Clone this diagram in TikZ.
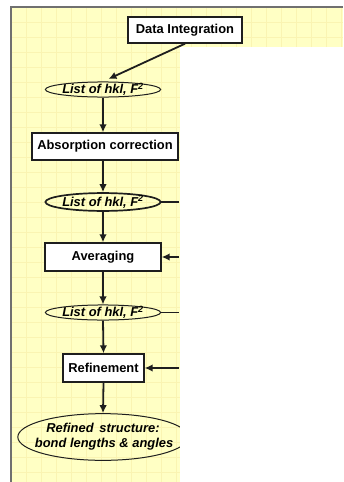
\documentclass[tikz,border=0pt]{standalone}
\usepackage{fontspec}
\setmainfont{Liberation Sans}
\usetikzlibrary{arrows.meta,shapes.geometric}
\definecolor{slideyellow}{HTML}{FFFFC4}
\definecolor{gridyellow}{HTML}{FAF4B2}
\definecolor{frameline}{HTML}{707070}
\definecolor{inkblack}{HTML}{1E1E1E}
\tikzset{
  procbox/.style={draw=inkblack,fill=white,line width=1.4pt,inner sep=0pt,
    font=\fontsize{12.9}{15}\selectfont\bfseries},
  datalist/.style={ellipse,draw=inkblack,line width=1pt,inner xsep=0pt,inner ysep=-1pt,
    font=\fontsize{12.9}{15}\selectfont\bfseries\itshape},
  flow/.style={draw=inkblack,line width=1.8pt,-{Latex[length=8pt,width=7.5pt]}},
  feed/.style={draw=inkblack,line width=1.4pt}
}
\begin{document}
\begin{tikzpicture}[x=1pt,y=-1pt]
\useasboundingbox (0,0) rectangle (343,482);
% slide background
\fill[slideyellow] (11,7) rectangle (343,482);
\foreach \gx in {26,41,...,341} \draw[gridyellow,line width=0.5pt] (\gx,7) -- (\gx,482);
\foreach \gy in {22,37,...,480} \draw[gridyellow,line width=0.5pt] (11,\gy) -- (343,\gy);
\draw[frameline,line width=1.5pt] (11,482) -- (11,7) -- (343,7);

% boxes and lists
\node[procbox,minimum width=114,minimum height=26] (integ) at (185,30) {Data Integration};
\node[datalist] (hkla) at (103,89.5) {List of hkl, F\textsuperscript{2}};
\node[procbox,minimum width=146,minimum height=27] (absorb) at (105,146.5) {Absorption correction};
\node[datalist,line width=1.7pt,inner ysep=0pt] (hklb) at (103,202) {List of hkl, F\textsuperscript{2}};
\node[procbox,minimum width=116,minimum height=28] (avg) at (103,257) {Averaging};
\node[datalist] (hklc) at (103,312.5) {List of hkl, F\textsuperscript{2}};
\node[procbox,minimum width=81,minimum height=28] (refine) at (103.5,368) {Refinement};
\node[datalist,align=center,inner xsep=-10pt,inner ysep=3pt] (result) at (103,437)
  {Refined\, structure:\\ \,bond lengths \& angles};

% connectors
\draw[flow,shorten >=6pt] (integ.south) -- (hkla.north);
\draw[flow] (hkla.south) -- (hkla.south |- absorb.north);
\draw[flow] (hkla.south |- absorb.south) -- (hklb.north);
\draw[flow] (hklb.south) -- (avg.north);
\draw[flow] (avg.south) -- (hklc.north);
\draw[flow] (hklc.south) -- (refine.north);
\draw[flow] (refine.south) -- (result.north);

% feeds from the right side
\coordinate (feedb) at (179,202);
\coordinate (feedavg) at (179,257);
\coordinate (feedc) at (179,312.5);
\coordinate (feedref) at (179,368);
\draw[feed] (hklb.east) -- (feedb);
\draw[flow] (feedavg) -- (avg.east);
\draw[feed,line width=1pt] (hklc.east) -- (feedc);
\draw[flow] (feedref) -- (refine.east);

% blank part of the slide
\fill[white] (179.5,47) rectangle (343,482);
\end{tikzpicture}
\end{document}
